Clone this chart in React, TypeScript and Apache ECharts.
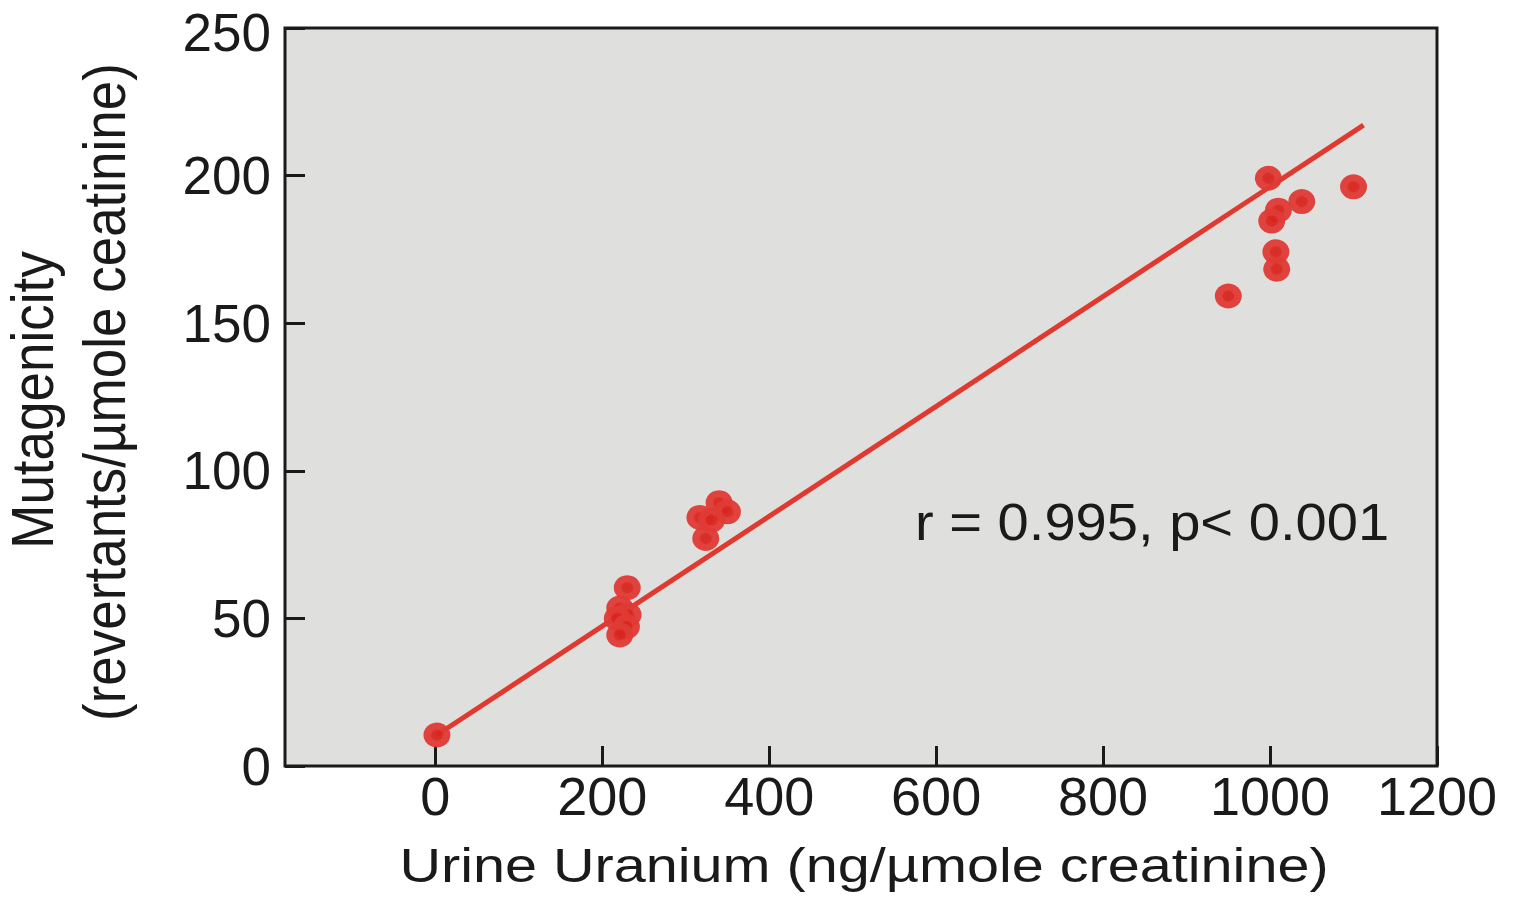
import React, { useEffect, useRef } from "react";
import * as echarts from "echarts";

const uranium = [2, 230, 221, 231, 218, 229, 221, 340, 350, 317, 331, 324, 998, 1100, 1038, 1010, 1002, 1007, 1008, 950];
const mutagenicity = [10.5, 60.4, 53.5, 51.2, 50.0, 47.2, 44.4, 89.2, 86.1, 84.2, 83.3, 77.1, 199.1, 196.2, 191.2, 188.3, 184.6, 174.2, 168.3, 159.2];
const fitX = [2, 1112];
const fitY = [10.5, 217.1];
const xTicks = [0, 200, 400, 600, 800, 1000, 1200];
const yMax = 250;
const xTitle = "Urine Uranium (ng/\u00b5mole creatinine)";
const yTitle1 = "Mutagenicity";
const yTitle2 = "(revertants/\u00b5mole ceatinine)";
const annotation = "r = 0.995, p< 0.001";

const FONT = "'Liberation Sans', Arial, Helvetica, sans-serif";
const INK = "#1a1a1a";
const RED = "#e03a35";

export default function App() {
  const ref = useRef<HTMLDivElement>(null);
  useEffect(() => {
    if (!ref.current) return;
    const chart = echarts.init(ref.current, undefined, { renderer: "svg" });
    const points = uranium.map((x, i) => [x, mutagenicity[i]]);
    const fit = fitX.map((x, i) => [x, fitY[i]]);
    const fmt = (v: number) => String(v);
    chart.setOption({
      animation: false,
      backgroundColor: "#ffffff",
      grid: {
        left: 285,
        top: 28,
        right: 76,
        bottom: 143,
        show: true,
        backgroundColor: "#dfdfdd",
        borderColor: INK,
        borderWidth: 3,
        containLabel: false,
      },
      xAxis: {
        type: "value",
        min: -180,
        max: 1200,
        axisLine: { show: false, onZero: false },
        splitLine: { show: false },
        axisTick: {
          show: true,
          inside: true,
          length: 20,
          customValues: xTicks,
          lineStyle: { color: INK, width: 3 },
        },
        axisLabel: {
          customValues: xTicks,
          formatter: fmt,
          fontSize: 54,
          fontFamily: FONT,
          color: INK,
          margin: 3,
        },
      },
      yAxis: {
        type: "value",
        min: 0,
        max: yMax,
        interval: 50,
        axisLine: { show: false, onZero: false },
        splitLine: { show: false },
        axisTick: {
          show: true,
          inside: true,
          length: 20,
          lineStyle: { color: INK, width: 3 },
        },
        axisLabel: {
          formatter: (v: number) => (v === yMax ? "{top|" + v + "}" : String(v)),
          fontSize: 53,
          fontFamily: FONT,
          color: INK,
          margin: 14,
          rich: {
            top: {
              fontSize: 53,
              fontFamily: FONT,
              color: INK,
              padding: [8, 0, 0, 0],
            },
          },
        },
      },
      series: [
        {
          type: "line",
          data: fit,
          showSymbol: false,
          symbol: "none",
          lineStyle: { color: "#e0392f", width: 5 },
          z: 2,
          silent: true,
        },
        {
          type: "scatter",
          data: points,
          symbol: "circle",
          symbolSize: [27, 25],
          z: 3,
          itemStyle: {
            opacity: 0.95,
            color: {
              type: "radial",
              x: 0.5,
              y: 0.5,
              r: 0.5,
              colorStops: [
                { offset: 0, color: "#d8231c" },
                { offset: 0.38, color: "#d9261f" },
                { offset: 0.5, color: RED },
                { offset: 1, color: RED },
              ],
            },
          },
        },
      ],
      graphic: [
        {
          type: "text",
          x: 864,
          y: 889,
          scaleX: 1.2,
          style: {
            text: xTitle,
            fontSize: 48,
            fontFamily: FONT,
            fill: INK,
            textAlign: "center",
            textVerticalAlign: "bottom",
          },
        },
        {
          type: "text",
          x: 4,
          y: 400,
          rotation: Math.PI / 2,
          scaleY: 1.1,
          style: {
            text: yTitle1,
            fontSize: 53,
            fontFamily: FONT,
            fill: INK,
            textAlign: "center",
            textVerticalAlign: "top",
          },
        },
        {
          type: "text",
          x: 76,
          y: 392,
          rotation: Math.PI / 2,
          scaleY: 1.1,
          style: {
            text: yTitle2,
            fontSize: 53,
            fontFamily: FONT,
            fill: INK,
            textAlign: "center",
            textVerticalAlign: "top",
          },
        },
        {
          type: "text",
          x: 915,
          y: 496,
          scaleX: 1.1,
          z: 10,
          style: {
            text: annotation,
            fontSize: 51,
            fontFamily: FONT,
            fill: INK,
            textAlign: "left",
            textVerticalAlign: "top",
          },
        },
      ],
    });
    return () => chart.dispose();
  }, []);
  return (
    <div
      ref={ref}
      style={{ position: "fixed", left: 0, top: 0, width: 1513, height: 909, background: "#fff" }}
    />
  );
}
